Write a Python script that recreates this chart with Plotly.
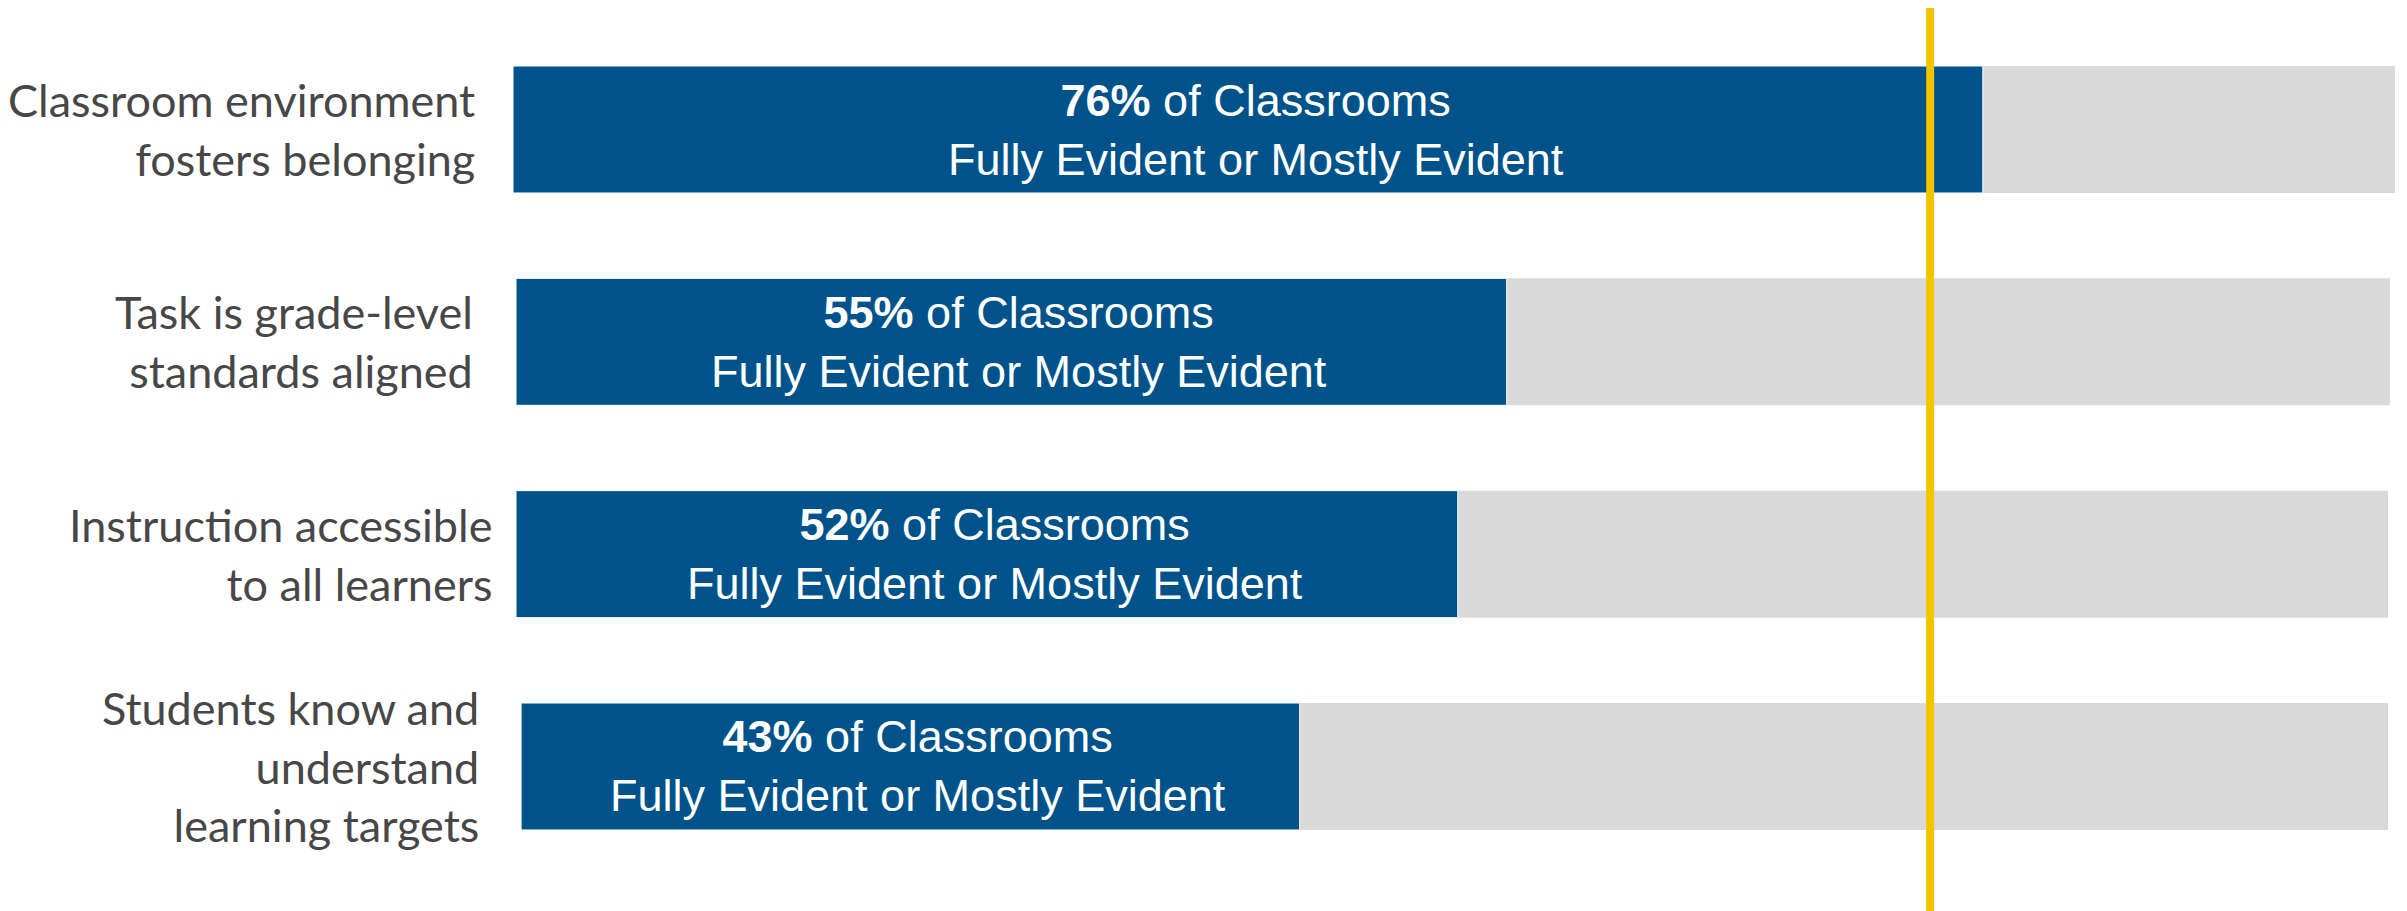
import plotly.graph_objects as go

# Row labels (top to bottom)
categories = [
    "Classroom environment<br>fosters belonging",
    "Task is grade-level<br>standards aligned",
    "Instruction accessible<br>to all learners",
    "Students know and<br>understand<br>learning targets",
]
# Percent shown in each bar's text
pct_labels = [76, 55, 52, 43]
# Bar geometry, in % of the gray track
bar_start = [0.0, 0.16, 0.16, 0.43]
blue_end = [78.1, 52.8, 50.2, 41.8]
gray_end = [100.0, 99.73, 99.63, 99.63]
# Yellow reference line
target_pct = 75.3

BLUE = "#00538A"
GRAY = "#D9D9D9"
YELLOW = "#F5C400"

rows = list(range(len(categories)))

fig = go.Figure()

# Gray track (full width)
fig.add_trace(
    go.Bar(
        y=rows,
        x=[e - s for s, e in zip(bar_start, gray_end)],
        base=bar_start,
        orientation="h",
        marker=dict(color=GRAY, line=dict(width=0)),
        width=0.598,
        hoverinfo="skip",
        showlegend=False,
    )
)

# Blue share
fig.add_trace(
    go.Bar(
        y=rows,
        x=[e - s for s, e in zip(bar_start, blue_end)],
        base=bar_start,
        orientation="h",
        marker=dict(color=BLUE, line=dict(color="white", width=1)),
        width=0.598,
        hoverinfo="skip",
        showlegend=False,
    )
)

# Text inside blue bars
for i, (s, e, p) in enumerate(zip(bar_start, blue_end, pct_labels)):
    fig.add_annotation(
        x=(s + e) / 2,
        y=i,
        xref="x",
        yref="y",
        text=f"<b>{p}%</b> of Classrooms<br>Fully Evident or Mostly Evident",
        showarrow=False,
        xanchor="center",
        yanchor="middle",
        xshift=8,
        align="center",
        font=dict(family="Liberation Sans, Arial, sans-serif", size=45, color="white"),
    )

# Row labels on the left
label_shift = [-36, -38, -19, -32]
for i, lab in enumerate(categories):
    fig.add_annotation(
        x=0,
        y=i,
        xref="x",
        yref="y",
        text=lab,
        showarrow=False,
        xanchor="right",
        yanchor="middle",
        xshift=label_shift[i],
        align="right",
        font=dict(family="Lato, Noto Sans, sans-serif", size=45, color="#474747"),
    )

# Yellow reference line
fig.add_shape(
    type="line",
    x0=target_pct,
    x1=target_pct,
    xref="x",
    yref="paper",
    y0=0,
    y1=1,
    line=dict(color=YELLOW, width=8),
    layer="above",
)

# page body adds an 8px margin, so the figure is sized 8px smaller
fig.update_layout(
    width=2399,
    height=903,
    margin=dict(l=505, r=12, t=0, b=0),
    paper_bgcolor="white",
    plot_bgcolor="white",
    barmode="overlay",
    xaxis=dict(range=[0, 100], visible=False, fixedrange=True),
    yaxis=dict(range=[3.6806, -0.5722], visible=False, fixedrange=True),
)

fig.write_html("out.html")
